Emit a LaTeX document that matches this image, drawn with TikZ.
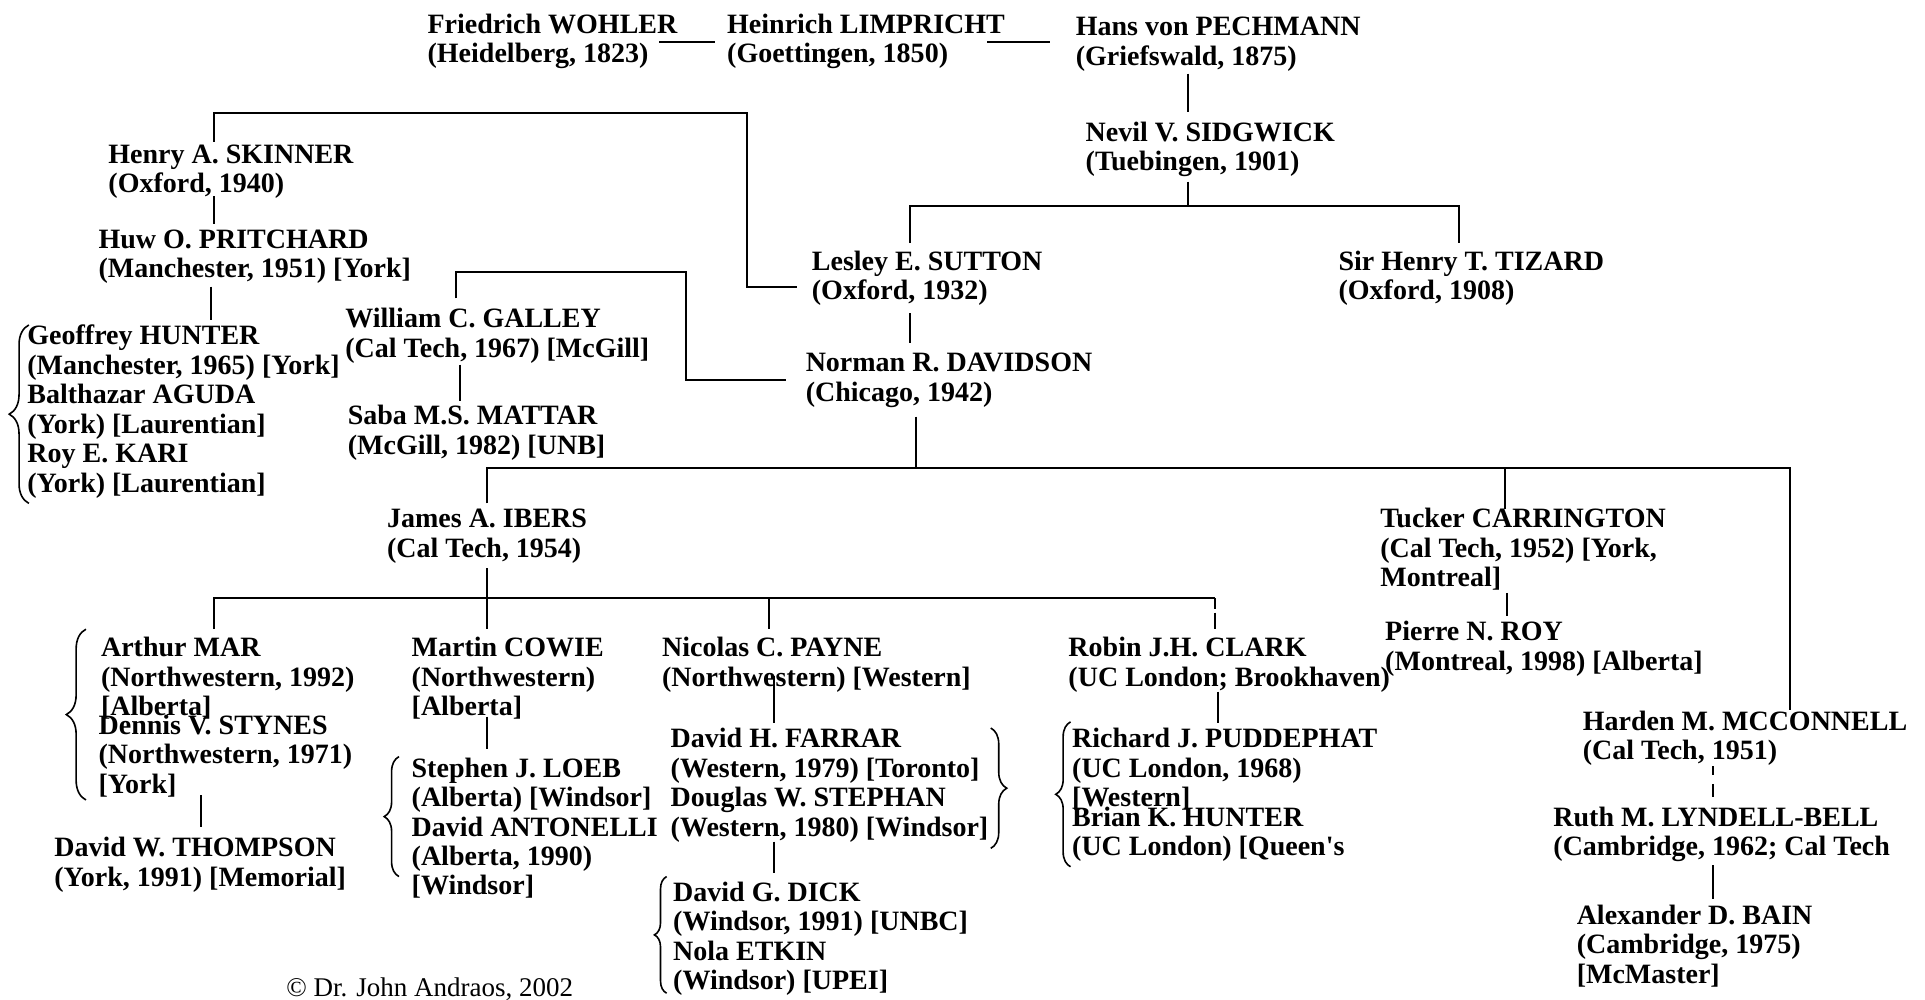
\documentclass[tikz,border=0pt]{standalone}
\usepackage{fontspec}
\setmainfont{Liberation Serif}
\usetikzlibrary{calc,decorations.pathreplacing}

% first line of each block sits on the node's base
\newcommand{\lines}[1]{\begin{tabular}[t]{@{}l@{}}#1\end{tabular}}

\tikzset{
  person/.style={anchor=base west, inner sep=0pt,
    font=\fontsize{14}{14.73}\selectfont\bfseries},
  link/.style={line width=1pt},
  group/.style={line width=0.8pt, decorate,
    decoration={brace, amplitude=#1, aspect=0.5}},
  group/.default=8pt
}

\begin{document}
\begin{tikzpicture}[x=0.6138pt, y=-0.6138pt]
\useasboundingbox (0,0) rectangle (1568,814);

% Top line
\node[person] (wohler) at (348,27) {\lines{Friedrich WOHLER\\(Heidelberg, 1823)}};
\node[person] (limpricht) at (592,27) {\lines{Heinrich LIMPRICHT\\(Goettingen, 1850)}};
\node[person] (pechmann) at (876,29) {\lines{Hans von PECHMANN\\(Griefswald, 1875)}};
\node[person] (sidgwick) at (884,115) {\lines{Nevil V. SIDGWICK\\(Tuebingen, 1901)}};
\node[person] (sutton) at (661,220) {\lines{Lesley E. SUTTON\\(Oxford, 1932)}};
\node[person] (tizard) at (1090,220) {\lines{Sir Henry T. TIZARD\\(Oxford, 1908)}};

% Skinner branch
\node[person] (skinner) at (88,133) {\lines{Henry A. SKINNER\\(Oxford, 1940)}};
\node[person] (pritchard) at (80,202) {\lines{Huw O. PRITCHARD\\(Manchester, 1951) [York]}};
\node[person] (hunterg) at (22,281) {\lines{Geoffrey HUNTER\\(Manchester, 1965) [York]\\Balthazar AGUDA\\(York) [Laurentian]\\Roy E. KARI\\(York) [Laurentian]}};
\node[person] (galley) at (281,267) {\lines{William C. GALLEY\\(Cal Tech, 1967) [McGill]}};
\node[person] (mattar) at (283,346) {\lines{Saba M.S. MATTAR\\(McGill, 1982) [UNB]}};

% Davidson and his students
\node[person] (davidson) at (656,303) {\lines{Norman R. DAVIDSON\\(Chicago, 1942)}};
\node[person] (ibers) at (315,430) {\lines{James A. IBERS\\(Cal Tech, 1954)}};
\node[person] (carrington) at (1124,430) {\lines{Tucker CARRINGTON\\(Cal Tech, 1952) [York,\\Montreal]}};
\node[person] (roy) at (1128,522) {\lines{Pierre N. ROY\\(Montreal, 1998) [Alberta]}};
\node[person] (mcconnell) at (1289,595) {\lines{Harden M. MCCONNELL\\(Cal Tech, 1951)}};
\node[person] (lyndell) at (1265,673) {\lines{Ruth M. LYNDELL-BELL\\(Cambridge, 1962; Cal Tech}};
\node[person] (bain) at (1284,753) {\lines{Alexander D. BAIN\\(Cambridge, 1975)\\{}[McMaster]}};

% Ibers branch
\node[person] (mar) at (82,535) {\lines{Arthur MAR\\(Northwestern, 1992)\\{}[Alberta]}};
\node[person] (stynes) at (80,598) {\lines{Dennis V. STYNES\\(Northwestern, 1971)\\{}[York]}};
\node[person] (thompson) at (44,698) {\lines{David W. THOMPSON\\(York, 1991) [Memorial]}};
\node[person] (cowie) at (335,535) {\lines{Martin COWIE\\(Northwestern)\\{}[Alberta]}};
\node[person] (loeb) at (335,633) {\lines{Stephen J. LOEB\\(Alberta) [Windsor]\\David ANTONELLI\\(Alberta, 1990)\\{}[Windsor]}};
\node[person] (payne) at (539,535) {\lines{Nicolas C. PAYNE\\(Northwestern) [Western]}};
\node[person] (farrar) at (546,609) {\lines{David H. FARRAR\\(Western, 1979) [Toronto]\\Douglas W. STEPHAN\\(Western, 1980) [Windsor]}};
\node[person] (dick) at (548,734) {\lines{David G. DICK\\(Windsor, 1991) [UNBC]\\Nola ETKIN\\(Windsor) [UPEI]}};
\node[person] (clark) at (870,535) {\lines{Robin J.H. CLARK\\(UC London; Brookhaven)}};
\node[person] (puddephat) at (873,609) {\lines{Richard J. PUDDEPHAT\\(UC London, 1968)\\{}[Western]}};
\node[person] (hunterb) at (873,673) {\lines{Brian K. HUNTER\\(UC London) [Queen\textquotesingle s}};

% Credit
\node[anchor=base west, inner sep=0pt, font=\fontsize{13.5}{15}\selectfont] (credit) at (233,812) {\textcopyright\ Dr. John Andraos, 2002};

% Top line links
\draw[link] ($(wohler.base west)+(189,7)$) -- ($(limpricht.base west)+(-10,7)$);
\draw[link] ($(limpricht.base west)+(212,7)$) -- ($(pechmann.base west)+(-21,5)$);
\draw[link] ($(pechmann.base west)+(92,31)$) -- ($(sidgwick.base west)+(84,-24)$);
\draw[link] ($(sidgwick.base west)+(84,33)$) -- ++(0,20);
\draw[link] ($(sutton.base west)+(80,-22)$) |- ($(tizard.base west)+(98,-52)$) -- ++(0,30);

% Sutton to Skinner and down
\draw[link] ($(sutton.base west)+(-12,13.5)$) -- ++(-40.5,0) |- ($(skinner.base west)+(86.6,-40.7)$) -- ++(0,23.1);
\draw[link] ($(skinner.base west)+(86.6,27)$) -- ($(pritchard.base west)+(94.6,-19.5)$);
\draw[link] ($(pritchard.base west)+(92,31.5)$) -- ($(hunterg.base west)+(150,-20.4)$);
\draw[link] ($(galley.base west)+(90.6,-24)$) |- ++(187.4,-21.7) |- ($(davidson.base west)+(-16,6.5)$);
\draw[link] ($(galley.base west)+(93.6,30)$) -- ($(mattar.base west)+(91.6,-19)$);

% Davidson links
\draw[link] ($(sutton.base west)+(80,35)$) -- ($(davidson.base west)+(85,-23.5)$);
\draw[link] ($(davidson.base west)+(90.5,36.4)$) -- ++(0,42.1);
\draw[link] ($(ibers.base west)+(81.4,-20)$) |- ($(mcconnell.base west)+(169,-213.5)$) -- ++(0,196.5);
\draw[link] ($(carrington.base west)+(102,-48.5)$) -- ($(carrington.base west)+(102,-15.3)$);
\draw[link] ($(carrington.base west)+(103.5,53)$) -- ($(roy.base west)+(99.5,-20)$);
\draw[link, dash pattern=on 4.7pt off 4.2pt on 6.8pt off 10pt] ($(mcconnell.base west)+(106.5,29)$) -- ($(lyndell.base west)+(130.5,-23.5)$);
\draw[link] ($(lyndell.base west)+(130.5,31.6)$) -- ($(bain.base west)+(111.5,-20.5)$);

% Ibers links
\draw[link] ($(ibers.base west)+(81.4,33)$) -- ++(0,24.4);
\draw[link] ($(mar.base west)+(92.6,-22.5)$) |- ($(clark.base west)+(119.4,-47.6)$);
\draw[link] ($(cowie.base west)+(61.4,-47.6)$) -- ++(0,25.1);
\draw[link] ($(payne.base west)+(87.4,-47.6)$) -- ++(0,25.1);
\draw[link, dash pattern=on 5.3pt off 1.8pt on 8.3pt off 10pt] ($(clark.base west)+(119.4,-47.6)$) -- ++(0,25.1);
\draw[link] ($(stynes.base west)+(83.6,49.6)$) -- ($(thompson.base west)+(119.6,-24.6)$);
\draw[link] ($(cowie.base west)+(61.4,48.8)$) -- ($(loeb.base west)+(61.4,-23)$);
\draw[link] ($(payne.base west)+(91.5,16)$) -- ($(farrar.base west)+(84.5,-20.3)$);
\draw[link] ($(farrar.base west)+(84.5,76.6)$) -- ($(dick.base west)+(82.5,-23)$);
\draw[link] ($(clark.base west)+(122,28.4)$) -- ($(puddephat.base west)+(119,-20.4)$);

% Braces
\draw[group=9.8pt] ($(hunterg.base west)+(1.5,129)$) -- ($(hunterg.base west)+(1.5,-16.3)$);
\draw[group=9.8pt] ($(mar.base west)+(-12,116.6)$) -- ($(mar.base west)+(-12,-22.5)$);
\draw[group=7.4pt] ($(loeb.base west)+(-10,81)$) -- ($(loeb.base west)+(-10,-16.7)$);
\draw[group=8pt] ($(farrar.base west)+(261,-16)$) -- ($(farrar.base west)+(261,82)$);
\draw[group=6.1pt] ($(dick.base west)+(-5,75)$) -- ($(dick.base west)+(-5,-20)$);
\draw[group=7.4pt] ($(puddephat.base west)+(-1,97)$) -- ($(puddephat.base west)+(-1,-21)$);
\end{tikzpicture}
\end{document}
